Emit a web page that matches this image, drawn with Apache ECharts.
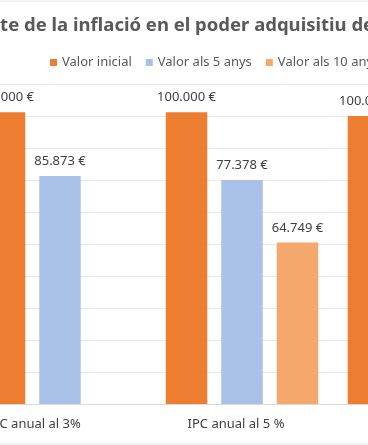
<!DOCTYPE html>
<html>
<head>
<meta charset="utf-8">
<script src="https://cdn.jsdelivr.net/npm/echarts@6/dist/echarts.min.js"></script>
<style>
html,body{margin:0;padding:0;background:#fff;}
#c{width:368px;height:445px;}
</style>
</head>
<body>
<div id="c"></div>
<script>
// Data
const categories = ['IPC anual al 3%', 'IPC anual al 5 %', 'IPC anual al 7 %'];
const seriesNames = ['Valor inicial', 'Valor als 5 anys', 'Valor als 10 anys'];
// values printed on the bars (€)
const labelInicial = [100000, 100000, 100000];
const label5anys   = [85873, 77378, null];
const label10anys  = [null, 64749, null];
// bar heights as drawn in the picture (axis units, €)
const heightInicial = [91200, 91200, 90000];
const height5anys   = [71250, 70000, null];
const height10anys  = [null, 50500, null];
const yTicks = { min: 0, max: 100000, interval: 10000 };

function fmt(v) {
  if (v == null) return '';
  return String(Math.round(v)).replace(/\B(?=(\d{3})+(?!\d))/g, '.') + ' €';
}

const colors = ['#ED7D31', '#A9C1E8', '#F5A86B'];
const heights = [heightInicial, height5anys, height10anys];
const labels = [labelInicial, label5anys, label10anys];
const labelPadRight = [52, 12, 0];

const chart = echarts.init(document.getElementById('c'), null, { renderer: 'canvas' });
const font = "'Noto Sans', sans-serif";

const series = seriesNames.map((name, si) => ({
  name: name,
  type: 'bar',
  barWidth: 41.5,
  barGap: '33.7%',
  itemStyle: { color: colors[si] },
  label: {
    show: true,
    position: 'top',
    distance: 8,
    color: '#404040',
    fontFamily: font,
    fontSize: 13,
    formatter: (p) => fmt(labels[si][p.dataIndex])
  },
  data: heights[si]
}));

chart.setOption({
  animation: false,
  backgroundColor: '#fff',
  title: {
    text: 'Efecte de la inflació en el poder adquisitiu dels estalvis',
    left: -43,
    top: 11,
    textStyle: { fontFamily: font, fontSize: 18.5, fontWeight: 'bold', color: '#595959' }
  },
  legend: {
    left: 45,
    top: 51,
    width: 600,
    itemWidth: 7,
    itemHeight: 7,
    itemGap: 14,
    icon: 'rect',
    textStyle: { fontFamily: font, fontSize: 13, color: '#595959' },
    data: seriesNames
  },
  grid: { left: -31, right: -147, top: 84, bottom: 41, containLabel: false, outerBoundsMode: 'none' },
  xAxis: {
    type: 'category',
    data: categories.map((c, i) => ({ value: c, textStyle: { padding: [0, labelPadRight[i], 0, 0] } })),
    axisTick: { show: false },
    axisLine: { lineStyle: { color: '#D9D9D9' } },
    axisLabel: { interval: 0, color: '#404040', fontFamily: font, fontSize: 13, margin: 14 }
  },
  yAxis: {
    type: 'value',
    min: yTicks.min,
    max: yTicks.max,
    interval: yTicks.interval,
    axisLabel: { show: false },
    axisLine: { show: false },
    axisTick: { show: false },
    splitLine: { lineStyle: { color: '#E8E8E8' } }
  },
  graphic: [
    { type: 'line', shape: { x1: 0, y1: 1, x2: 368, y2: 1 }, style: { stroke: '#E6E6E6', lineWidth: 1 } },
    { type: 'line', shape: { x1: 0, y1: 444, x2: 368, y2: 444 }, style: { stroke: '#E6E6E6', lineWidth: 1 } }
  ],
  series: series
});
</script>
</body>
</html>
